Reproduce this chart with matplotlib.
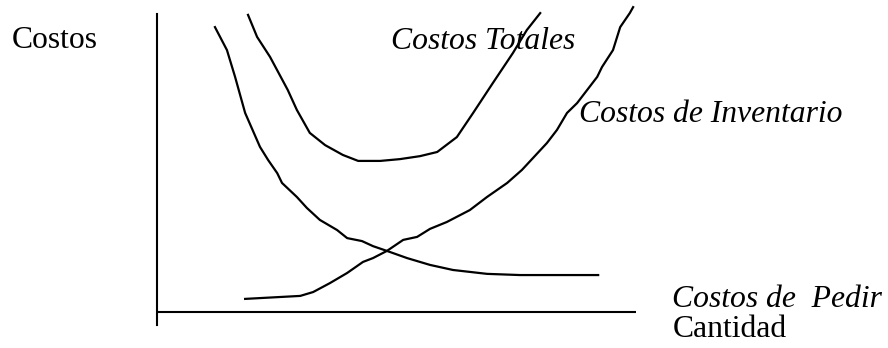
import matplotlib
matplotlib.use("Agg")
import matplotlib.pyplot as plt

# hand-drawn curves (quantity 0-100, cost 0-100)
totales_x = [19.0, 20.9, 23.6, 25.3, 27.3, 29.2, 31.9, 35.1, 38.8, 42.0,
             46.6, 50.7, 54.9, 58.5, 62.6, 66.0, 70.1, 74.3, 77.2, 80.0]
totales_y = [99.7, 92.3, 85.6, 80.5, 74.5, 67.8, 60.1, 56.0, 52.7, 50.7,
             50.7, 51.3, 52.3, 53.7, 58.7, 66.8, 76.8, 86.9, 94.6, 100.3]

pedir_x = [12.1, 14.6, 16.3, 18.4, 21.5, 23.2, 25.1, 26.1, 29.2, 31.3, 34.0,
           37.6, 39.7, 42.8, 45.1, 48.0, 52.2, 57.0, 61.8, 68.9, 75.8, 92.1]
pedir_y = [95.6, 87.9, 78.9, 66.8, 55.4, 51.0, 46.6, 43.3, 38.6, 34.9, 30.9,
           27.5, 24.8, 23.8, 22.1, 20.5, 18.1, 15.8, 14.1, 12.8, 12.4, 12.4]

inventario_x = [18.4, 29.9, 32.6, 36.1, 39.7, 43.0, 45.1, 48.0, 51.4, 54.3,
                57.0, 60.5, 65.3, 68.9, 73.1, 76.2, 81.4, 83.5, 85.6, 87.7,
                91.9, 92.9, 95.2, 96.7, 98.7, 99.4]
inventario_y = [4.4, 5.4, 6.7, 9.7, 13.1, 16.8, 18.1, 20.5, 24.2, 25.2,
                27.9, 30.2, 34.2, 38.6, 43.3, 47.7, 56.7, 61.1, 66.8, 70.1,
                78.9, 82.2, 87.9, 95.6, 100.3, 102.3]

W, H = 888, 348
fig = plt.figure(figsize=(W / 100, H / 100), dpi=100)
ax = fig.add_axes([157 / W, 1 - 325 / H, 479 / W, 311 / H])
ax.set_xlim(0, 100)
ax.set_ylim(-4.36, 100)

for s in ["top", "right", "bottom"]:
    ax.spines[s].set_visible(False)
ax.spines["left"].set_linewidth(1.5)
ax.set_xticks([])
ax.set_yticks([])
ax.axhline(0, color="black", lw=1.5)

for xs, ys in [(totales_x, totales_y), (pedir_x, pedir_y),
               (inventario_x, inventario_y)]:
    ax.plot(xs, ys, color="black", lw=1.6, clip_on=False,
            solid_joinstyle="round")

serif = "Liberation Serif"
fs = 22.8


def label(px, py, s, style="normal"):
    fig.text(px / W, 1 - py / H, s, family=serif, fontsize=fs,
             style=style, va="baseline", ha="left")


label(12, 48, "Costos")
label(391, 49, "Costos Totales", "italic")
label(579, 122, "Costos de Inventario", "italic")
label(672, 307, "Costos de  Pedir", "italic")
label(673, 337, "Cantidad")

fig.savefig("out.png", dpi=100)
